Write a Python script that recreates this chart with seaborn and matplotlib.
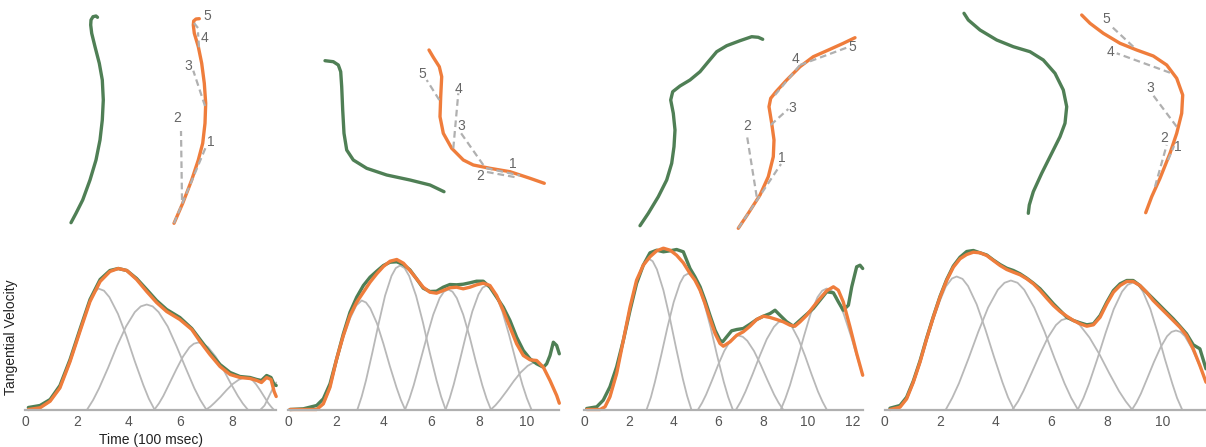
import matplotlib.pyplot as plt
import seaborn as sns

sns.set_theme(style="white")
plt.rcParams['font.family'] = ['Liberation Sans', 'DejaVu Sans']

GREEN = "#4f7f55"
ORANGE = "#ef7d3c"
BELL = "#b8b8b8"
DASH = "#b0b0b0"
TXT = "#555555"

# ---------------- pen trajectories (top row), x / y in drawing units ----------------
tr1_green_x = [97.5, 96, 93, 91, 90.7, 91.7, 95, 99.3, 102.3, 103.3, 102.3, 100, 96, 90, 82.7, 76, 71]
tr1_green_y = [17.3, 16, 16.7, 20, 25, 33.3, 46.7, 63.3, 80, 100, 120, 140, 160, 180, 200, 213.3, 222.7]
tr1_orange_x = [199.3, 196, 193.7, 193.3, 194.3, 198.3, 201.7, 204.3, 205.7, 205, 202.7, 198.3, 191.7, 182.7, 174]
tr1_orange_y = [18.7, 19, 21, 25, 33.3, 46.7, 63.3, 83.3, 103.3, 123.3, 143.3, 160, 180, 203.3, 223.3]
tr1_seg_x = [(174, 206.7), (182, 181), (205, 193.3), (199, 198), (198, 194)]
tr1_seg_y = [(223.3, 145), (200, 131), (106, 70.7), (47.3, 32.3), (28, 23)]
tr1_lab_x = [210.7, 176.7, 188.3, 204.3, 207.3]
tr1_lab_y = [141.7, 118.3, 66, 38.3, 16]

tr2_green_x = [325, 333.3, 338.3, 340.7, 341.7, 342.7, 344, 346.7, 353.3, 366.7, 386.7, 410, 430, 444]
tr2_green_y = [60.7, 61.7, 65, 71.7, 86.7, 110, 133.3, 150, 160, 168.3, 175, 180, 185, 191.7]
tr2_orange_x = [429, 433.3, 439.3, 441.7, 440.7, 440, 443.3, 451.7, 463.3, 473.3, 490, 510, 530, 544.3]
tr2_orange_y = [50, 57.3, 66.7, 76.7, 96.7, 116.7, 133.3, 148.3, 160, 165, 168.3, 171.7, 178.3, 183.3]
tr2_seg_x = [(486, 520), (487, 517), (483.3, 460), (453.3, 458.3), (439.3, 426.7)]
tr2_seg_y = [(168, 175.5), (172, 177.5), (165, 131.7), (148.3, 93.3), (100, 80)]
tr2_lab_x = [513.3, 480, 461, 458.3, 422.3]
tr2_lab_y = [164, 176, 126, 89.3, 74]

tr3_green_x = [640, 648.3, 658.3, 666.7, 671.7, 674, 675, 673.3, 670.7, 672.7, 680, 690, 700, 708.3,
               716.7, 726.7, 740, 751.7, 758.3, 762.7]
tr3_green_y = [225.7, 213.3, 196.7, 180, 163.3, 146.7, 130, 113.3, 100, 91.7, 86, 80, 71.7, 61.7,
               51.7, 45.7, 40.7, 36.7, 37.3, 39.3]
tr3_orange_x = [738.3, 748.3, 760, 768.3, 773.3, 774, 771.7, 769, 770.7, 776, 786.7, 800, 813.3, 830, 843.3, 855]
tr3_orange_y = [228.3, 213.3, 195, 176.7, 156.7, 140, 123.3, 106.7, 98.3, 91.7, 80, 66.7, 56.7, 49.3, 43.3, 37.7]
tr3_seg_x = [(738.3, 781), (756.7, 746.7), (770.7, 788.3), (775, 800), (800, 849.3)]
tr3_seg_y = [(228.3, 164), (196.7, 134), (125, 109), (95, 65), (65, 46.7)]
tr3_lab_x = [782.3, 746.7, 792.7, 796, 852.7]
tr3_lab_y = [158, 126, 108.3, 59.3, 46.7]

tr4_green_x = [964, 968.3, 980, 996.7, 1013.3, 1030, 1043.3, 1055, 1063.3, 1066.7, 1065, 1060, 1051.7,
               1041.7, 1033.3, 1029.3, 1028.3]
tr4_green_y = [13.3, 20, 30, 40, 46.7, 51.7, 60, 73.3, 90, 106.7, 123.3, 136.7, 153.3, 173.3, 191.7, 205, 213.3]
tr4_orange_x = [1081.7, 1090, 1103.3, 1120, 1136.7, 1153.3, 1166.7, 1176.7, 1182.7, 1181.7, 1176.7, 1170,
                1160, 1151.7, 1145.7]
tr4_orange_y = [15, 23.3, 33.3, 43.3, 50, 56, 65, 78.3, 95, 113.3, 133.3, 153.3, 178.3, 196.7, 212.7]
tr4_seg_x = [(1168, 1174), (1155, 1166.7), (1176.7, 1151.7), (1170, 1116.7), (1133.3, 1110)]
tr4_seg_y = [(160, 146), (186.7, 145), (126.7, 93.3), (72.7, 53.3), (46.7, 25)]
tr4_lab_x = [1178.3, 1164, 1150.7, 1110.7, 1106]
tr4_lab_y = [146.7, 138.3, 88.3, 51.7, 19.3]

# ---------------- tangential velocity (bottom row), time in 100 ms ----------------
v1_t = [0.13, 0.58, 0.97, 1.35, 1.74, 2.12, 2.51, 2.90, 3.28, 3.60, 3.93, 4.31, 4.70, 5.08, 5.47, 5.98,
        6.44, 6.76, 7.14, 7.53, 7.92, 8.30, 8.69, 8.95, 9.13, 9.33, 9.50, 9.62, 9.70]
v1_orange = [0, 1.7, 8.3, 21.7, 48, 78, 108, 128, 138, 141, 139, 130, 118, 107, 98, 90, 80, 68, 55, 43, 35,
             32, 31, 29, 27, 32, 30, 18, 13]
v1_green = [2, 4, 10, 24, 50, 80, 110, 130, 139, 141, 139, 131, 120, 109, 100, 92, 81, 70, 57, 45, 37, 33,
            32, 30, 29, 34, 32, 25, 24]
v1_bells = [
    ([0.5, 0.97, 1.35, 1.74, 2.12, 2.4, 2.6, 2.72, 2.83, 3.05, 3.26, 3.59, 3.92, 4.24, 4.57, 4.78, 5.0],
     [0, 8, 21, 47, 77, 100, 113, 118, 121, 118.8, 112.3, 95.6, 73.1, 48.2, 24.4, 10.9, 0]),
    ([2.4, 2.63, 2.86, 3.21, 3.55, 3.90, 4.24, 4.47, 4.7, 4.93, 5.16, 5.51, 5.85, 6.20, 6.54, 6.77, 7.0],
     [0, 9.5, 21.2, 41.8, 63.4, 83, 97.4, 103.1, 105, 103.1, 97.4, 83, 63.4, 41.8, 21.2, 9.5, 0]),
    ([5.0, 5.17, 5.34, 5.59, 5.85, 6.10, 6.35, 6.52, 6.69, 6.88, 7.07, 7.36, 7.65, 7.93, 8.22, 8.41, 8.6],
     [0, 6, 13.5, 26.7, 40.5, 52.9, 62.2, 65.8, 67, 65.8, 62.2, 52.9, 40.5, 26.7, 13.5, 6, 0]),
    ([7.0, 7.16, 7.31, 7.55, 7.78, 8.01, 8.25, 8.40, 8.56, 8.66, 8.77, 8.92, 9.08, 9.24, 9.39, 9.50, 9.6],
     [0, 2.9, 6.5, 12.7, 19.3, 25.3, 29.7, 31.4, 32, 31.4, 29.7, 25.3, 19.3, 12.7, 6.5, 2.9, 0]),
    ([9.1, 9.25, 9.4, 9.55, 9.7], [0, 4, 12, 20, 27]),
]

v2_t = [0.07, 1.19, 1.47, 1.75, 2.03, 2.31, 2.59, 2.87, 3.15, 3.43, 3.71, 3.99, 4.27, 4.55, 4.83, 5.10,
        5.38, 5.66, 5.94, 6.22, 6.50, 6.78, 7.06, 7.34, 7.62, 7.90, 8.18, 8.46, 8.74, 9.02, 9.30, 9.58,
        9.86, 10.14, 10.42, 10.70, 10.98, 11.26, 11.37]
v2_orange = [0, 0, 5.7, 22.3, 50.7, 74, 94, 107.3, 117.3, 127.3, 135.7, 143, 148.3, 150, 146.3, 139, 130.7,
             122.3, 117.3, 116.3, 119, 121.7, 122.3, 120.7, 122.3, 124.7, 126.3, 124, 114, 99, 82.3, 65.7,
             54, 49.7, 49, 42.3, 29, 14, 6.3]
v2_green_t = [0.07, 0.63, 1.19, 1.47, 1.75, 2.03, 2.31, 2.59, 2.87, 3.15, 3.43, 3.71, 3.99, 4.27, 4.55,
              4.83, 5.10, 5.38, 5.66, 5.94, 6.22, 6.50, 6.78, 7.06, 7.34, 7.62, 7.90, 8.18, 8.46, 8.74,
              9.02, 9.30, 9.58, 9.86, 10.14, 10.42, 10.70, 10.84, 10.98, 11.12, 11.26, 11.37]
v2_green = [0, 0.7, 4, 10.7, 25.7, 50.7, 75.7, 97.3, 112.3, 124, 132.3, 138.3, 144, 147.3, 147.7, 145,
            139.7, 130.7, 121.3, 118, 118.3, 122.3, 125, 124.7, 125.3, 126.7, 128.3, 128.3, 122.3, 112.3,
            102.3, 89, 72.3, 59, 50.7, 45.7, 42.3, 45.7, 54, 67.3, 64, 55.7]
v2_bells = [
    ([1.2, 1.47, 1.75, 2.03, 2.31, 2.59, 2.85, 3.08, 3.26, 3.44, 3.72, 3.99, 4.26, 4.54, 4.72, 4.9],
     [0, 5, 21, 48, 72, 91, 104, 109, 107, 101.2, 86.1, 65.8, 43.4, 22, 9.8, 0]),
    ([2.9, 3.08, 3.26, 3.53, 3.80, 4.06, 4.33, 4.51, 4.69, 4.88, 5.07, 5.36, 5.65, 5.93, 6.22, 6.41, 6.6],
     [0, 13, 29.1, 57.3, 87, 113.8, 133.6, 141.4, 144, 141.4, 133.6, 113.8, 87, 57.3, 29.1, 13, 0]),
    ([4.9, 5.08, 5.26, 5.53, 5.81, 6.08, 6.35, 6.53, 6.71, 6.89, 7.07, 7.34, 7.61, 7.87, 8.14, 8.32, 8.5],
     [0, 10.8, 24.2, 47.8, 72.5, 94.8, 111.4, 117.8, 120, 117.8, 111.4, 94.8, 72.5, 47.8, 24.2, 10.8, 0]),
    ([6.6, 6.77, 6.94, 7.20, 7.46, 7.72, 7.98, 8.15, 8.32, 8.51, 8.70, 8.98, 9.26, 9.54, 9.82, 10.01, 10.2],
     [0, 11.2, 25, 49.4, 74.9, 98, 115.1, 121.8, 124, 121.8, 115.1, 98, 74.9, 49.4, 25, 11.2, 0]),
    ([8.5, 8.69, 8.88, 9.17, 9.46, 9.75, 10.04, 10.23, 10.42, 10.7, 10.98, 11.26, 11.37],
     [0, 4.2, 9.5, 18.7, 28.4, 37.1, 43.6, 46.2, 47, 42, 29, 14, 6]),
]

v3_t = [0.12, 0.72, 0.94, 1.16, 1.46, 1.76, 2.06, 2.35, 2.65, 2.95, 3.25, 3.55, 3.85, 4.14, 4.44, 4.74,
        4.96, 5.19, 5.41, 5.63, 5.86, 6.08, 6.23, 6.53, 6.83, 7.12, 7.42, 7.72, 8.02, 8.32, 8.61, 8.91,
        9.21, 9.43, 9.66, 9.96, 10.25, 10.55, 10.85, 11.15, 11.37, 11.59, 11.89, 12.19, 12.46]
v3_orange = [0, 0, 2.7, 12.7, 36, 69.3, 102.7, 129.3, 144.3, 152.7, 158.7, 161.3, 159.3, 154.3, 146.7,
             136, 129.3, 119.3, 106, 91, 76, 66, 63.3, 67.7, 74.3, 77.7, 83.3, 90, 93.3, 92, 90, 87.7,
             84.3, 83.3, 87.7, 94.3, 102.7, 111, 118.7, 122.7, 119.3, 107.7, 82.7, 56, 34.3]
v3_green_t = [0.12, 0.57, 0.86, 1.16, 1.46, 1.76, 2.06, 2.35, 2.65, 2.95, 3.25, 3.55, 3.85, 4.14, 4.44,
              4.74, 4.96, 5.19, 5.41, 5.63, 5.86, 6.08, 6.20, 6.38, 6.60, 6.83, 7.12, 7.42, 7.72, 8.02,
              8.32, 8.54, 8.76, 9.06, 9.36, 9.66, 9.96, 10.25, 10.55, 10.85, 11.15, 11.37, 11.59, 11.82,
              11.97, 12.19, 12.34, 12.46]
v3_green = [1, 2.7, 9.3, 22.7, 42.7, 69.3, 99.3, 126, 144.3, 156.7, 159.3, 157.7, 158.7, 160, 157.7, 141,
            132.7, 122.7, 109.3, 94.3, 79.3, 69.3, 67.7, 72.7, 78.7, 80, 81, 85.3, 90, 93.3, 96, 99.3,
            94.3, 87.7, 83.3, 89.3, 95.3, 101, 109.3, 117.7, 116.7, 107.7, 99.3, 104.3, 122.7, 142.7,
            144.3, 141]
v3_bells = [
    ([0.7, 0.94, 1.16, 1.46, 1.76, 2.06, 2.35, 2.62, 2.88, 3.07, 3.26, 3.55, 3.84, 4.13, 4.42, 4.61, 4.8],
     [0, 2.5, 12, 35, 68, 100, 126, 143, 151, 148.3, 140.1, 119.3, 91.2, 60.1, 30.5, 13.6, 0]),
    ([2.8, 2.99, 3.17, 3.45, 3.73, 4.01, 4.29, 4.47, 4.66, 4.86, 5.06, 5.36, 5.66, 5.95, 6.25, 6.45, 6.65],
     [0, 12.2, 27.5, 54.1, 82.1, 107.4, 126.2, 133.6, 136, 133.6, 126.2, 107.4, 82.1, 54.1, 27.5, 12.2, 0]),
    ([5.1, 5.28, 5.46, 5.73, 6.0, 6.27, 6.54, 6.72, 6.9, 7.1, 7.3, 7.6, 7.9, 8.2, 8.5, 8.7, 8.9],
     [0, 6.7, 14.9, 29.5, 44.7, 58.5, 68.7, 72.7, 74, 72.7, 68.7, 58.5, 44.7, 29.5, 14.9, 6.7, 0]),
    ([6.8, 7.01, 7.22, 7.54, 7.86, 8.17, 8.49, 8.70, 8.91, 9.10, 9.30, 9.59, 9.88, 10.17, 10.46, 10.66, 10.85],
     [0, 8, 18, 35.4, 53.8, 70.3, 82.6, 87.4, 89, 87.4, 82.6, 70.3, 53.8, 35.4, 18, 8, 0]),
    ([8.8, 9.0, 9.21, 9.52, 9.83, 10.13, 10.44, 10.65, 10.85, 11.07, 11.29, 11.61, 11.94, 12.27, 12.46],
     [0, 10.9, 24.4, 48.2, 73.1, 95.6, 112.3, 118.8, 121, 118.8, 112.3, 95.6, 73.1, 48.2, 34]),
]

v4_t = [0.19, 0.55, 0.79, 1.03, 1.27, 1.51, 1.75, 1.99, 2.23, 2.47, 2.71, 2.95, 3.19, 3.43, 3.67, 3.91,
        4.15, 4.39, 4.63, 4.87, 5.11, 5.35, 5.59, 5.83, 6.07, 6.31, 6.55, 6.79, 7.03, 7.27, 7.51, 7.75,
        7.99, 8.23, 8.47, 8.71, 8.94, 9.18, 9.42, 9.66, 9.90, 10.14, 10.38, 10.62, 10.86, 11.10, 11.34,
        11.56]
v4_orange = [0, 2.3, 10.7, 27.3, 47.3, 70.7, 92.3, 112.3, 129, 142.3, 150.7, 155, 157.3, 156.7, 154, 149,
             144, 140, 137.3, 134.7, 130.7, 125.7, 119, 111.3, 104, 98, 93.3, 89, 85.7, 83.3, 84.7, 92.3,
             105.7, 117.3, 124, 128, 128, 124, 117.3, 109, 102.3, 95.7, 89, 82.3, 74, 60.7, 44, 27.3]
v4_green = [1.3, 4, 12.3, 28.5, 48.5, 71.5, 93, 113, 130, 143.5, 152.3, 158, 159, 156.7, 154.5, 149.5,
            145, 141.3, 139, 135.7, 131.3, 126.3, 120.7, 113.3, 105.7, 99, 92.3, 89, 86.7, 84.7, 85.7,
            94, 107.3, 119, 125.7, 129, 129, 124, 117.3, 110.7, 104, 97.3, 90.7, 83.3, 75.7, 64.7, 60.7, 40.7]
v4_bells = [
    ([0.2, 0.55, 0.79, 1.03, 1.27, 1.51, 1.75, 1.99, 2.2, 2.42, 2.59, 2.80, 3.00, 3.31, 3.62, 3.93, 4.24,
      4.44, 4.65],
     [0, 2, 10, 26, 46, 69, 90, 109, 123, 131, 133, 130.6, 123.4, 105.1, 80.3, 52.9, 26.9, 12, 0]),
    ([2.2, 2.43, 2.67, 3.02, 3.37, 3.72, 4.07, 4.31, 4.54, 4.78, 5.02, 5.38, 5.75, 6.11, 6.47, 6.71, 6.95],
     [0, 11.6, 26.1, 51.3, 77.9, 101.9, 119.7, 126.7, 129, 126.7, 119.7, 101.9, 77.9, 51.3, 26.1, 11.6, 0]),
    ([4.6, 4.80, 4.99, 5.28, 5.58, 5.87, 6.16, 6.36, 6.55, 6.79, 7.02, 7.37, 7.73, 8.08, 8.43, 8.67, 8.9],
     [0, 8.2, 18.4, 36.2, 55, 71.9, 84.4, 89.4, 91, 89.4, 84.4, 71.9, 55, 36.2, 18.4, 8.2, 0]),
    ([6.95, 7.15, 7.35, 7.65, 7.95, 8.24, 8.54, 8.74, 8.94, 9.12, 9.29, 9.56, 9.82, 10.08, 10.35, 10.52, 10.7],
     [0, 11.4, 25.7, 50.5, 76.7, 100.3, 117.9, 124.7, 127, 124.7, 117.9, 100.3, 76.7, 50.5, 25.7, 11.4, 0]),
    ([8.9, 9.06, 9.22, 9.45, 9.69, 9.93, 10.16, 10.32, 10.48, 10.64, 10.8, 11.03, 11.27, 11.51, 11.56],
     [0, 7.1, 16, 31.4, 47.7, 62.4, 73.3, 77.6, 79, 77.6, 73.3, 62.4, 47.7, 31.4, 28]),
]

x_max = [9.7, 11.37, 12.46, 11.56]
tick_sets = [[0, 2, 4, 6, 8], [0, 2, 4, 6, 8, 10], [0, 2, 4, 6, 8, 10, 12], [0, 2, 4, 6, 8, 10]]

# ---------------- figure ----------------
W, H = 1206, 447
fig = plt.figure(figsize=(W / 100, H / 100), dpi=100)

ax_top = fig.add_axes([0, 207 / H, 1, 240 / H])
ax_top.set_xlim(0, W)
ax_top.set_ylim(240, 0)
ax_top.axis("off")

trajs = [
    (tr1_green_x, tr1_green_y, tr1_orange_x, tr1_orange_y, tr1_seg_x, tr1_seg_y, tr1_lab_x, tr1_lab_y),
    (tr2_green_x, tr2_green_y, tr2_orange_x, tr2_orange_y, tr2_seg_x, tr2_seg_y, tr2_lab_x, tr2_lab_y),
    (tr3_green_x, tr3_green_y, tr3_orange_x, tr3_orange_y, tr3_seg_x, tr3_seg_y, tr3_lab_x, tr3_lab_y),
    (tr4_green_x, tr4_green_y, tr4_orange_x, tr4_orange_y, tr4_seg_x, tr4_seg_y, tr4_lab_x, tr4_lab_y),
]
for gx, gy, ox, oy, sx, sy, lx, ly in trajs:
    sns.lineplot(x=gx, y=gy, ax=ax_top, color=GREEN, lw=2.4, sort=False, estimator=None,
                 solid_capstyle="round", solid_joinstyle="round")
    sns.lineplot(x=ox, y=oy, ax=ax_top, color=ORANGE, lw=2.4, sort=False, estimator=None,
                 solid_capstyle="round", solid_joinstyle="round")
    for k in range(5):
        ax_top.plot(sx[k], sy[k], color=DASH, lw=1.6, dashes=(3, 1.8), zorder=4)
        ax_top.text(lx[k], ly[k], str(k + 1), color="#666666", fontsize=10,
                    ha="center", va="center", zorder=5)

boxes = [(25, 251.2), (288.3, 271), (584, 278.7), (884.7, 321.3)]
vel = [
    (v1_t, v1_green, v1_t, v1_orange, v1_bells),
    (v2_green_t, v2_green, v2_t, v2_orange, v2_bells),
    (v3_green_t, v3_green, v3_t, v3_orange, v3_bells),
    (v4_t, v4_green, v4_t, v4_orange, v4_bells),
]
for i, ((left, width), (gt, gv, ot, ov, bells)) in enumerate(zip(boxes, vel)):
    ax = fig.add_axes([left / W, (H - 409.5) / H, width / W, 169 / H])
    for bt, bv in bells:
        sns.lineplot(x=bt, y=bv, ax=ax, color=BELL, lw=1.3, sort=False, estimator=None, clip_on=False,
                     solid_joinstyle="round")
    sns.lineplot(x=gt, y=gv, ax=ax, color=GREEN, lw=2.4, sort=False, estimator=None, clip_on=False,
                 solid_joinstyle="round")
    sns.lineplot(x=ot, y=ov, ax=ax, color=ORANGE, lw=2.4, sort=False, estimator=None, clip_on=False,
                 solid_joinstyle="round")
    ax.set_xlim(0, x_max[i])
    ax.set_ylim(0, 169)
    ax.set_xticks(tick_sets[i])
    ax.set_xticklabels([str(t) for t in tick_sets[i]])
    ax.set_yticks([])
    ax.tick_params(axis="x", length=0, pad=4, labelsize=10, labelcolor=TXT)
    for s in ["top", "left", "right"]:
        ax.spines[s].set_visible(False)
    ax.spines["bottom"].set_color("#b0b0b0")
    ax.spines["bottom"].set_linewidth(1.6)
    ax.set_facecolor("none")
    if i == 0:
        ax.set_xlabel("Time (100 msec)", fontsize=10, color="#222222", labelpad=3)
        ax.set_ylabel("Tangential Velocity", fontsize=10, color="#222222")
        ax.yaxis.set_label_coords(-0.028, 0.43)
    else:
        ax.set_xlabel("")
        ax.set_ylabel("")

fig.savefig("out.png", dpi=100, facecolor="white")
